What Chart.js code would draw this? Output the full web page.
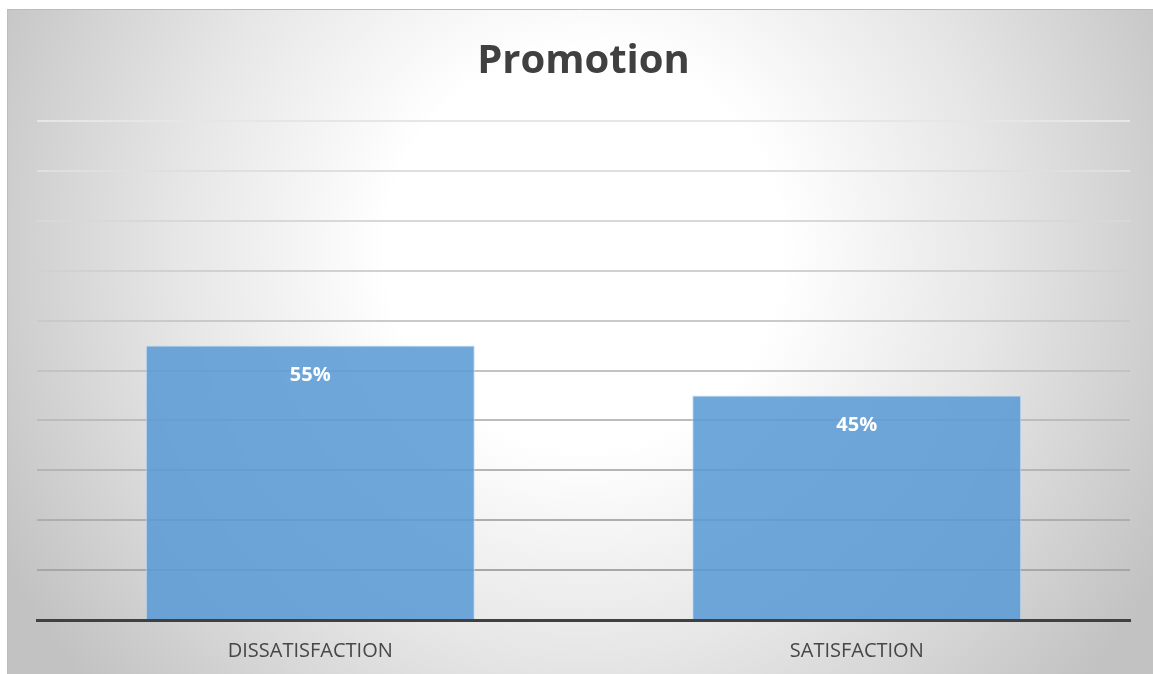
<!DOCTYPE html>
<html>
<head>
<meta charset="utf-8">
<script src="https://cdn.jsdelivr.net/npm/chart.js@4.4.1/dist/chart.umd.min.js"></script>
<style>
  html, body { margin: 0; padding: 0; background: #ffffff; }
  #wrap { width: 1153px; height: 674px; }
</style>
</head>
<body>
<div id="wrap"><canvas id="chart" width="1153" height="674"></canvas></div>
<script>
// Survey result for the "Promotion" question
const categories = ['DISSATISFACTION', 'SATISFACTION'];
const shares = [55, 45];          // percent of respondents
const chartTitle = 'Promotion';

// Soft radial backdrop with a thin frame line
const backdrop = {
  id: 'backdrop',
  beforeDraw(chart) {
    const ctx = chart.ctx;
    const W = chart.width, H = chart.height;
    ctx.save();
    ctx.fillStyle = '#ffffff';
    ctx.fillRect(0, 0, W, H);
    const x0 = 7, y0 = 9;
    const g = ctx.createRadialGradient(584, 250, 0, 584, 250, 660);
    g.addColorStop(0, '#ffffff');
    g.addColorStop(0.3, '#ffffff');
    g.addColorStop(0.62, '#e6e6e6');
    g.addColorStop(1, '#c2c2c2');
    ctx.fillStyle = g;
    ctx.fillRect(x0, y0, W - x0, H - y0);
    ctx.strokeStyle = '#bcbcbc';
    ctx.lineWidth = 1;
    ctx.beginPath();
    ctx.moveTo(x0 + 0.5, H);
    ctx.lineTo(x0 + 0.5, y0 + 0.5);
    ctx.lineTo(W, y0 + 0.5);
    ctx.stroke();
    ctx.restore();
  }
};

// Percentage labels inside the top of each bar
const barLabels = {
  id: 'barLabels',
  afterDatasetsDraw(chart) {
    const ctx = chart.ctx;
    const meta = chart.getDatasetMeta(0);
    ctx.save();
    ctx.fillStyle = '#ffffff';
    ctx.font = 'bold 20px "Open Sans", sans-serif';
    ctx.textAlign = 'center';
    ctx.textBaseline = 'middle';
    meta.data.forEach((bar, i) => {
      ctx.fillText(shares[i] + '%', bar.x, bar.y + 30);
    });
    ctx.restore();
  }
};

new Chart(document.getElementById('chart'), {
  type: 'bar',
  data: {
    labels: categories,
    datasets: [{
      data: shares,
      backgroundColor: 'rgba(91,155,213,0.88)',
      borderColor: 'rgba(200,222,243,0.9)',
      borderWidth: { top: 1, left: 1, right: 1, bottom: 0 },
      borderSkipped: 'bottom',
      categoryPercentage: 1,
      barPercentage: 0.602
    }]
  },
  options: {
    responsive: false,
    animation: false,
    layout: { padding: { left: 37, right: 23, top: 0, bottom: -8 } },
    plugins: {
      legend: { display: false },
      tooltip: { enabled: false },
      title: {
        display: true,
        text: chartTitle,
        color: '#404040',
        font: { family: '"Open Sans", sans-serif', size: 40, weight: 'bold' },
        padding: { top: 38, bottom: 35 }
      }
    },
    scales: {
      x: {
        grid: { display: false, drawTicks: false },
        border: { display: true, color: '#404040', width: 3 },
        ticks: {
          color: '#474747',
          font: { family: '"Open Sans", sans-serif', size: 20 },
          padding: 19
        }
      },
      y: {
        min: 0,
        max: 100,
        ticks: { display: false, stepSize: 10 },
        border: { display: false },
        grid: {
          drawTicks: false,
          lineWidth: 2,
          color: (c) => {
            const v = c.tick ? c.tick.value : 0;
            const shade = Math.round(160 + (v / 100) * 70);
            return `rgb(${shade},${shade},${shade})`;
          }
        }
      }
    }
  },
  plugins: [backdrop, barLabels]
});
</script>
</body>
</html>
